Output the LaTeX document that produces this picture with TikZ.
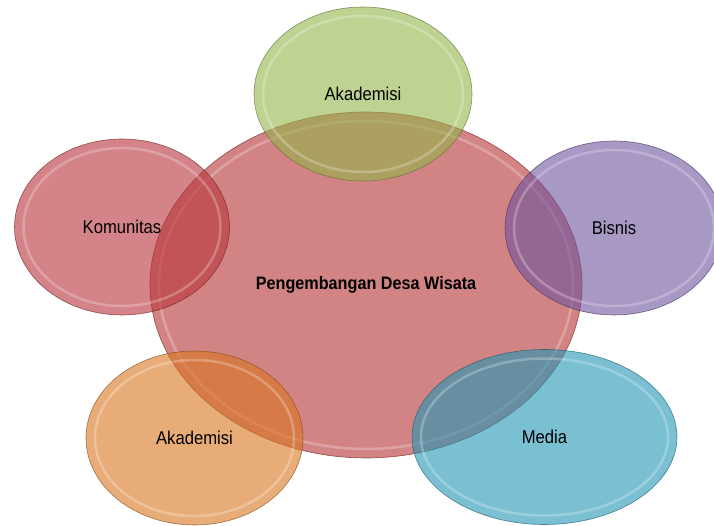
\documentclass[tikz,border=0pt]{standalone}
\usepackage{fontspec}
\usepackage{xcolor}
\usepackage{tikz}
\usetikzlibrary{shapes,calc}
\newfontfamily\labelfont{Liberation Sans}[FakeStretch=0.9]

\definecolor{pusatred}{RGB}{180,50,52}
\definecolor{akagreen}{RGB}{147,180,72}
\definecolor{bispurple}{RGB}{110,83,157}
\definecolor{komred}{RGB}{183,50,56}
\definecolor{akaorange}{RGB}{217,117,30}
\definecolor{medblue}{RGB}{33,150,180}

\begin{document}
\begin{tikzpicture}[x=1pt,y=1pt,
    bubble/.style={ellipse, inner sep=0pt, fill=#1, fill opacity=.6,
        draw=#1!60!black, draw opacity=.7, line width=.6pt, text opacity=1,
        font=\labelfont\fontsize{18.5}{21}\selectfont,
        path picture={
            \draw[white, line width=2.5pt, draw opacity=.25]
                let \p1=(path picture bounding box.north east),
                    \p2=(path picture bounding box.center)
                in (\p2) ellipse [x radius=\x1-\x2-9pt, y radius=\y1-\y2-9pt];
        }}]
        \clip (0,0) rectangle (714,526);
        \useasboundingbox (0,0) rectangle (714,526);

        % Pusat
        \node[bubble=pusatred, minimum width=432pt, minimum height=346pt,
              font=\labelfont\bfseries\fontsize{18}{21}\selectfont]
              (pusat) at (366,241) {Pengembangan Desa Wisata};

        % Akademisi (atas)
        \node[bubble=akagreen, minimum width=218pt, minimum height=174pt]
              (akademisiA) at (363,432) {Akademisi};

        % Bisnis
        \node[bubble=bispurple, minimum width=218pt, minimum height=174pt]
              (bisnis) at (614,298) {Bisnis};

        % Komunitas
        \node[bubble=komred, minimum width=215pt, minimum height=176pt]
              (komunitas) at (122,299) {Komunitas};

        % Akademisi (bawah)
        \node[bubble=akaorange, minimum width=217pt, minimum height=174pt]
              (akademisiB) at (194.5,88) {Akademisi};

        % Media
        \node[bubble=medblue, minimum width=265pt, minimum height=175pt]
              (media) at (544.5,89) {Media};
    \end{tikzpicture}
\end{document}
